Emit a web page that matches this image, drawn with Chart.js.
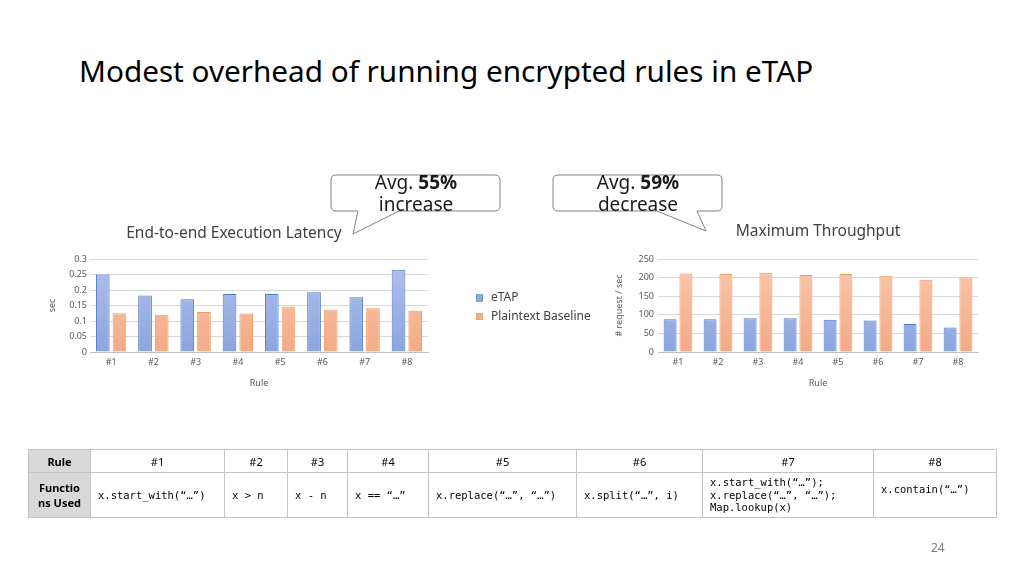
<!DOCTYPE html>
<html>
<head>
<meta charset="utf-8">
<script src="https://cdn.jsdelivr.net/npm/chart.js@4/dist/chart.umd.min.js"></script>
<style>
  html, body { margin: 0; padding: 0; background: #fff; }
  body { width: 1024px; height: 575px; position: relative; overflow: hidden; font-family: "Noto Sans", sans-serif; }
  #title { position: absolute; left: 79px; top: 55.5px; font-size: 29.7px; line-height: 1; color: #000; white-space: nowrap; }
  .chartbox { position: absolute; }
  #pageno { position: absolute; left: 931px; top: 539px; font-size: 12px; color: #7f7f7f; }
  table { position: absolute; left: 28px; top: 449px; width: 968px; border-collapse: collapse; table-layout: fixed; font-size: 11px; color: #000; }
  td { border: 1px solid #c4c4c4; padding: 0 7px; }
  tr.h td { height: 22px; text-align: center; }
  tr.b td { height: 44px; vertical-align: middle; }
  td.rh { background: #d9d9d9; font-weight: bold; text-align: center; padding: 0 2px; line-height: 15px; }
  td.code { font-family: "DejaVu Sans Mono", monospace; font-size: 10.5px; line-height: 12.5px; white-space: nowrap; }
  svg#callouts { position: absolute; left: 0; top: 0; }
</style>
</head>
<body>
<div id="title">Modest overhead of running encrypted rules in eTAP</div>

<div class="chartbox" style="left:40px; top:222px; width:560px; height:173px;"><canvas id="latency"></canvas></div>
<div class="chartbox" style="left:600px; top:222px; width:390px; height:173px;"><canvas id="throughput"></canvas></div>

<svg id="callouts" width="1024" height="575">
  <path d="M336,175 H495 Q500,175 500,180 V206 Q500,211 495,211 H399 L353,234 L358,211 H336 Q331,211 331,206 V180 Q331,175 336,175 Z" fill="none" stroke="#808080" stroke-width="1"/>
  <path d="M558,175 H717 Q722,175 722,180 V206 Q722,211 717,211 H697 L706,231 L657,211 H558 Q553,211 553,206 V180 Q553,175 558,175 Z" fill="none" stroke="#808080" stroke-width="1"/>
  <g font-family="Noto Sans" font-size="19" fill="#1a1a1a" text-anchor="middle">
    <text x="416" y="188.5">Avg. <tspan font-weight="bold">55%</tspan></text>
    <text x="416" y="211">increase</text>
    <text x="638" y="188.5">Avg. <tspan font-weight="bold">59%</tspan></text>
    <text x="638" y="211">decrease</text>
  </g>
</svg>

<table>
  <colgroup>
    <col style="width:62px"><col style="width:134px"><col style="width:63px"><col style="width:60px"><col style="width:81px"><col style="width:148px"><col style="width:126px"><col style="width:171px"><col style="width:123px">
  </colgroup>
  <tr class="h">
    <td class="rh">Rule</td><td>#1</td><td>#2</td><td>#3</td><td>#4</td><td>#5</td><td>#6</td><td>#7</td><td>#8</td>
  </tr>
  <tr class="b">
    <td class="rh">Functio<br>ns Used</td>
    <td class="code">x.start_with(“…”)</td>
    <td class="code">x &gt; n</td>
    <td class="code">x - n</td>
    <td class="code">x == “…”</td>
    <td class="code">x.replace(“…”, “…”)</td>
    <td class="code">x.split(“…”, i)</td>
    <td class="code">x.start_with(“…”);<br>x.replace(“…”, “…”);<br>Map.lookup(x)</td>
    <td class="code">x.contain(“…”)<br>&nbsp;</td>
  </tr>
</table>

<div id="pageno">24</div>

<script>
// ---- data ----
const categories = ['#1', '#2', '#3', '#4', '#5', '#6', '#7', '#8'];
const seriesNames = ['eTAP', 'Plaintext Baseline'];
const latencyETAP = [0.250, 0.182, 0.170, 0.187, 0.187, 0.193, 0.177, 0.265];
const latencyBaseline = [0.125, 0.120, 0.129, 0.124, 0.147, 0.137, 0.141, 0.133];
const throughputETAP = [88, 88, 91, 91, 87, 85, 75, 66];
const throughputBaseline = [211, 210, 213, 207, 210, 205, 194, 200];

// ---- styling helpers ----
const FONT = 'Noto Sans';
const blue = { top: '#b0c2ec', bottom: '#8ba5df', border: '#4f78c9', legend: '#8faadc' };
const orange = { top: '#f9c8ac', bottom: '#f4aa86', border: '#ef9a62', legend: '#f4b183' };

function gradient(c) {
  return (ctx) => {
    const chart = ctx.chart;
    const area = chart.chartArea;
    if (!area) return c.bottom;
    const g = chart.ctx.createLinearGradient(0, area.top, 0, area.bottom);
    g.addColorStop(0, c.top);
    g.addColorStop(1, c.bottom);
    return g;
  };
}

function makeDatasets(a, b) {
  return [
    { label: seriesNames[0], data: a, backgroundColor: gradient(blue), borderColor: blue.border, borderWidth: 1,
      categoryPercentage: 0.79, barPercentage: 0.82, legendColor: blue.legend },
    { label: seriesNames[1], data: b, backgroundColor: gradient(orange), borderColor: orange.border, borderWidth: 1,
      categoryPercentage: 0.79, barPercentage: 0.82, legendColor: orange.legend }
  ];
}

// Side legend drawn to the right of the latency plot
const sideLegend = {
  id: 'sideLegend',
  afterDraw(chart, args, opts) {
    if (!opts || !opts.display) return;
    const ctx = chart.ctx;
    const area = chart.chartArea;
    const mid = (area.top + area.bottom) / 2;
    ctx.save();
    ctx.font = '12px "' + FONT + '"';
    ctx.textBaseline = 'middle';
    ctx.textAlign = 'left';
    chart.data.datasets.forEach((ds, i) => {
      const y = mid - 7.5 + i * 18.5;
      const x = area.right + opts.offset;
      ctx.fillStyle = ds.legendColor;
      ctx.fillRect(x, y - 3.5, 7, 7);
      ctx.strokeStyle = ds.borderColor;
      ctx.lineWidth = 0.6;
      ctx.strokeRect(x + 0.3, y - 3.2, 6.4, 6.4);
      ctx.fillStyle = '#404040';
      ctx.fillText(ds.label, x + 15, y);
    });
    ctx.restore();
  }
};

function baseOptions(cfg) {
  return {
    responsive: true,
    maintainAspectRatio: false,
    animation: false,
    layout: { padding: { left: 0, right: cfg.padRight, top: 0, bottom: 0 } },
    plugins: {
      legend: { display: false },
      tooltip: { enabled: false },
      title: {
        display: true, text: cfg.title, color: '#404040', fullSize: cfg.fullSize,
        font: { family: FONT, size: 15.5, weight: 'normal' },
        padding: { top: cfg.titleTop, bottom: cfg.titleBottom }
      },
      sideLegend: { display: cfg.legend, offset: 48 }
    },
    scales: {
      x: {
        grid: { display: false, drawTicks: false },
        border: { display: true, color: '#bfbfbf' },
        ticks: { color: '#595959', font: { family: FONT, size: 9 }, padding: 5 },
        title: { display: true, text: 'Rule', color: '#595959', font: { family: FONT, size: 9 }, padding: { top: 0, bottom: 6.6 } },
        afterFit: (s) => { s.height = 43; }
      },
      y: {
        min: 0, max: cfg.max,
        grid: { color: '#d9d9d9', drawTicks: false, lineWidth: 1 },
        border: { display: false },
        ticks: { stepSize: cfg.step, color: '#595959', font: { family: FONT, size: 9 }, padding: cfg.tickPad,
                 callback: (v) => Number(v.toFixed(2)).toString() },
        title: { display: true, text: cfg.ytitle, color: '#595959', font: { family: FONT, size: 9 }, padding: { top: cfg.ytitlePad, bottom: 0 } },
        afterFit: (s) => { s.width = cfg.yWidth; }
      }
    }
  };
}

new Chart(document.getElementById('latency'), {
  type: 'bar',
  data: { labels: categories, datasets: makeDatasets(latencyETAP, latencyBaseline) },
  options: baseOptions({ title: 'End-to-end Execution Latency', fullSize: true, titleTop: 2.7, titleBottom: 15.7,
    padRight: 172, max: 0.3, step: 0.05, tickPad: 3, ytitle: 'sec', ytitlePad: 6.6, yWidth: 50, legend: true }),
  plugins: [sideLegend]
});

new Chart(document.getElementById('throughput'), {
  type: 'bar',
  data: { labels: categories, datasets: makeDatasets(throughputETAP, throughputBaseline) },
  options: baseOptions({ title: 'Maximum Throughput', fullSize: false, titleTop: 0.7, titleBottom: 17.7,
    padRight: 12, max: 250, step: 50, tickPad: 4, ytitle: '# request / sec', ytitlePad: 13.6, yWidth: 58, legend: false }),
  plugins: [sideLegend]
});
</script>
</body>
</html>
